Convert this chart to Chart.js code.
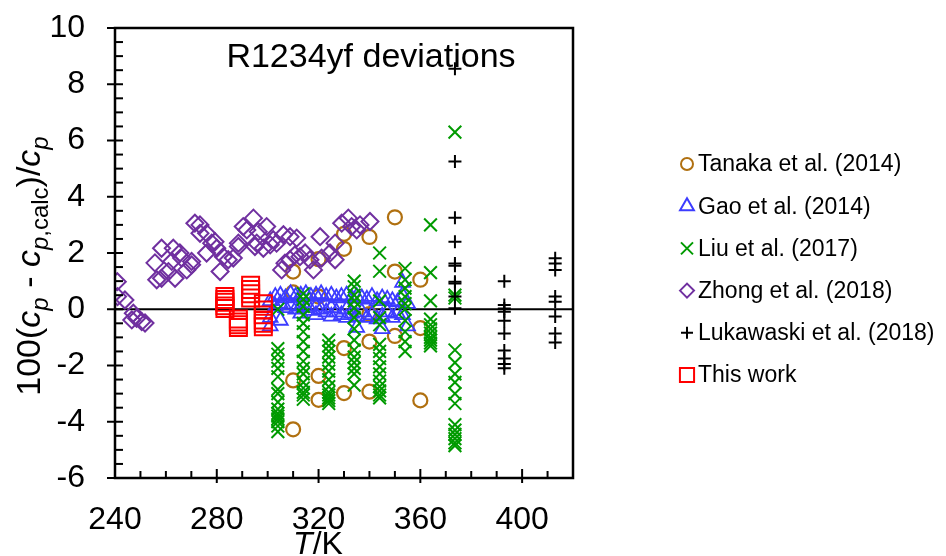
<!DOCTYPE html>
<html>
<head>
<meta charset="utf-8">
<script src="https://cdn.jsdelivr.net/npm/chart.js@4.4.1/dist/chart.umd.min.js"></script>
<style>
  html, body { margin: 0; padding: 0; background: #fff; }
  #wrap { width: 946px; height: 556px; }
</style>
</head>
<body>
<div id="wrap"><canvas id="cpChart" width="946" height="556"></canvas></div>
<script>
// Values: T in K, 100(cp - cp,calc)/cp in %
const tanakaT = [310, 310, 310, 310, 320, 320, 320, 320, 330, 330, 330, 330, 340, 340, 340, 340, 350, 350, 350, 360, 360, 360];
const tanakaV = [1.34, 0.6, -2.53, -4.27, 1.78, 0.45, -2.37, -3.22, 2.68, 2.15, -1.38, -2.98, 2.57, -0.17, -1.15, -2.93, 3.27, 1.34, -0.95, 1.05, -0.67, -3.24];

const gaoT = [301, 301, 301, 303, 303, 305, 305, 305, 307, 307, 309, 309, 311, 311, 313, 313, 313, 315, 315, 317, 317,
  319, 319, 319, 321, 321, 323, 323, 325, 325, 325, 327, 327, 329, 329, 331, 331, 331, 333, 333, 335, 335, 335,
  337, 337, 339, 339, 341, 341, 343, 343, 345, 345, 345, 347, 347, 349, 349, 351, 351, 353, 353, 353, 355, 355];
const gaoV = [0.3, -0.3, -0.6, 0.45, 0.1, 0.5, 0.2, -0.4, 0.4, 0.05, 0.55, 0.15, 0.45, 0.0, 0.5, 0.1, -0.15, 0.55, 0.05, 0.45, -0.05,
  0.5, 0.1, -0.2, 0.55, 0.0, 0.45, -0.1, 0.5, 0.05, -0.25, 0.4, -0.1, 0.45, -0.2, 0.5, 0.0, -0.3, 0.4, -0.15, 0.45, -0.25, -0.65,
  0.4, -0.1, 0.35, -0.3, 0.45, -0.2, 0.3, -0.35, 0.4, -0.25, -0.7, 0.35, -0.1, 0.3, -0.3, 0.25, -0.15, 0.95, 0.5, -0.2, 0.2, -0.6];

const liuT = [
  304, 304, 304, 304, 304, 304, 304, 304, 304, 304, 304, 304, 304, 304, 304, 304,
  314, 314, 314, 314, 314, 314, 314, 314, 314, 314, 314, 314, 314, 314, 314, 314,
  324, 324, 324, 324, 324, 324, 324, 324, 324, 324, 324, 324, 324,
  334, 334, 334, 334, 334, 334, 334, 334, 334, 334, 334, 334, 334, 334,
  344, 344, 344, 344, 344, 344, 344, 344, 344, 344, 344, 344, 344, 344, 344,
  354, 354, 354, 354, 354, 354, 354, 354, 354, 354,
  364, 364, 364, 364, 364, 364, 364, 364, 364, 364, 364,
  373.6, 373.6, 373.6, 373.6, 373.6, 373.6, 373.6, 373.6, 373.6, 373.6, 373.6, 373.6, 373.6, 373.6, 373.6];
const liuV = [
  0.0, -1.4, -1.6, -1.85, -2.1, -2.4, -2.85, -3.0, -3.3, -3.55, -3.7, -3.8, -3.9, -4.0, -4.15, -4.35,
  0.55, 0.35, 0.1, -0.2, -0.5, -0.8, -1.15, -1.5, -1.85, -2.1, -2.3, -2.6, -2.8, -2.95, -3.05, -3.2,
  -1.1, -1.3, -1.5, -1.7, -1.95, -2.2, -2.5, -2.75, -2.95, -3.05, -3.15, -3.25, -3.35,
  1.0, 0.8, 0.5, 0.3, 0.05, -0.3, -0.7, -1.1, -1.45, -1.7, -1.9, -2.1, -2.3, -2.7,
  2.0, 1.35, 0.3, -0.3, -0.55, -1.25, -1.5, -1.75, -2.05, -2.3, -2.55, -2.75, -2.9, -3.05, -3.15,
  1.45, 1.05, 0.75, 0.45, 0.2, 0.0, -0.4, -0.8, -1.15, -1.5,
  3.0, 1.3, 0.3, -0.35, -0.55, -0.7, -0.85, -1.0, -1.1, -1.2, -1.3,
  6.3, 0.5, 0.4, -1.45, -1.9, -2.3, -2.6, -3.0, -3.35, -4.1, -4.3, -4.45, -4.6, -4.75, -4.85];

const zhongT = [240.9, 241, 243.9, 246.6, 247.2, 248.5, 250.5, 251.8, 255.7, 256.4, 258.3, 258.3, 261, 262.3, 262.9, 263.6,
  265.5, 266.2, 268.2, 270.1, 270.1, 271.4, 273.4, 273.4, 276, 276, 278, 279.3, 280, 281.3, 282.6, 284.5, 286.5, 288.5, 288.5,
  290.4, 291.8, 294.4, 295, 295.7, 296.3, 298.3, 299.6, 301, 302.2, 303.5, 305.5, 306.2, 306.8, 308.8, 308.8, 310.7, 311.4,
  312.7, 314.7, 316.6, 318, 320.6, 321.2, 324.5, 326.5, 326.5, 329.1, 331.7, 333, 335, 336.3, 340.2];
const zhongV = [0.98, 0.45, 0.33, -0.38, -0.14, -0.32, -0.44, -0.49, 1.65, 1.05, 1.1, 2.17, 1.34, 1.7, 2.17, 1.1,
  2.0, 1.82, 1.4, 1.7, 1.58, 3.06, 3.0, 2.7, 2.7, 2.0, 2.35, 2.4, 2.17, 1.34, 1.87, 1.76, 1.82, 2.35, 2.23,
  2.94, 2.82, 3.24, 2.23, 2.35, 2.76, 2.17, 2.94, 2.29, 2.47, 2.35, 1.4, 2.65, 1.64, 2.58, 1.76, 1.93, 2.53,
  1.87, 2.0, 1.76, 1.4, 2.58, 1.82, 2.0, 2.35, 1.76, 3.06, 3.24, 2.94, 2.82, 3.0, 3.12];

const lukaT = [373.6, 373.6, 373.6, 373.6, 373.6, 373.6, 373.6, 373.6, 373.6, 373.6,
  393, 393, 393, 393, 393, 393, 393, 393, 393, 393,
  413, 413, 413, 413, 413, 413, 413, 413];
const lukaV = [8.55, 5.25, 3.25, 2.4, 1.63, 1.55, 0.98, 0.92, 0.45, 0.04,
  1.0, 0.15, 0.03, -0.09, -0.41, -0.86, -1.47, -1.75, -1.95, -2.1,
  1.81, 1.63, 1.4, 0.45, 0.27, -0.26, -0.86, -1.18];

const thisWorkT = [283.2, 283.2, 283.2, 283.2, 283.2, 288.5, 288.5, 288.5, 288.5, 293.3, 293.3, 293.3, 293.3,
  298.3, 298.3, 298.3, 298.3, 298.3, 298.3];
const thisWorkV = [0.45, 0.35, 0.25, 0.12, 0.03, -0.35, -0.45, -0.55, -0.65, 0.85, 0.7, 0.55, 0.4,
  0.2, -0.03, -0.2, -0.38, -0.5, -0.62];

const seriesLabels = ['Tanaka et al. (2014)', 'Gao et al. (2014)', 'Liu et al. (2017)', 'Zhong et al. (2018)', 'Lukawaski et al. (2018)', 'This work'];
const xTickLabels = [240, 280, 320, 360, 400];
const yTickLabels = [-6, -4, -2, 0, 2, 4, 6, 8, 10];

const FONT = "'Liberation Sans', Arial, sans-serif";

function pairs(xs, ys) {
  return xs.map((x, i) => ({ x: x, y: ys[i] }));
}

// marker style per series (same order as seriesLabels)
const styles = [
  { color: '#B07010', pointStyle: 'circle', radius: 7, width: 2.2, legendRadius: 6 },
  { color: '#3C3CFF', pointStyle: 'triangle', radius: 8.5, width: 1.8, legendRadius: 8 },
  { color: '#009A00', pointStyle: 'crossRot', radius: 9, width: 2, legendRadius: 8.5 },
  { color: '#7030A0', pointStyle: 'rectRot', radius: 8.5, width: 2, legendRadius: 7 },
  { color: '#000000', pointStyle: 'cross', radius: 6.5, width: 2, legendRadius: 6 },
  { color: '#FF0000', pointStyle: 'rect', radius: 12, width: 2, legendRadius: 10 }
];
const seriesData = [
  pairs(tanakaT, tanakaV), pairs(gaoT, gaoV), pairs(liuT, liuV),
  pairs(zhongT, zhongV), pairs(lukaT, lukaV), pairs(thisWorkT, thisWorkV)
];

const datasets = seriesData.map((d, i) => ({
  label: seriesLabels[i],
  data: d,
  order: 6 - i,
  pointStyle: styles[i].pointStyle,
  pointRadius: styles[i].radius,
  pointBorderWidth: styles[i].width,
  borderColor: styles[i].color,
  backgroundColor: 'rgba(0,0,0,0)',
  showLine: false
}));

// own plugin: zero line, axis frame with inside/crossing ticks, texts, legend
const decorations = {
  id: 'decorations',
  beforeDatasetsDraw(chart) {
    const { ctx, chartArea, scales } = chart;
    const y0 = scales.y.getPixelForValue(0);
    ctx.save();
    ctx.strokeStyle = '#000';
    ctx.lineWidth = 2;
    ctx.beginPath();
    ctx.moveTo(chartArea.left, y0);
    ctx.lineTo(chartArea.right, y0);
    ctx.stroke();
    ctx.restore();
  },
  afterDraw(chart) {
    const { ctx, chartArea: a, scales } = chart;
    ctx.save();
    ctx.strokeStyle = '#000';
    ctx.lineWidth = 2.5;
    ctx.strokeRect(a.left, a.top, a.right - a.left, a.bottom - a.top);

    // y ticks every 0.5, major every 2
    ctx.lineWidth = 2;
    for (let v = -6; v <= 10; v += 0.5) {
      const py = scales.y.getPixelForValue(v);
      const major = v % 2 === 0;
      ctx.beginPath();
      ctx.moveTo(a.left - (major ? 8 : 0), py);
      ctx.lineTo(a.left + 8, py);
      ctx.stroke();
    }
    // x ticks every 10, major every 40
    for (let t = 250; t <= 410; t += 10) {
      const px = scales.x.getPixelForValue(t);
      const major = (t - 240) % 40 === 0;
      ctx.beginPath();
      ctx.moveTo(px, a.bottom + (major ? 5 : 0));
      ctx.lineTo(px, a.bottom - (major ? 9 : 7));
      ctx.stroke();
    }

    ctx.fillStyle = '#000';
    ctx.textBaseline = 'alphabetic';

    // title inside the plot
    ctx.font = '34px ' + FONT;
    ctx.textAlign = 'center';
    ctx.fillText('R1234yf deviations', 371, 67);

    // x title: T/K
    ctx.textAlign = 'left';
    ctx.font = 'italic 32px ' + FONT;
    const tW = ctx.measureText('T').width;
    ctx.font = '32px ' + FONT;
    const kW = ctx.measureText('/K').width;
    const xs = 318 - (tW + kW) / 2;
    ctx.font = 'italic 32px ' + FONT;
    ctx.fillText('T', xs, 554);
    ctx.font = '32px ' + FONT;
    ctx.fillText('/K', xs + tW, 554);

    // y title: 100(cp - cp,calc)/cp
    const parts = [
      ['100(', '34px', 0], ['c', 'italic 34px', 0], ['p', 'italic 24px', 8],
      [' - ', '34px', 0], ['c', 'italic 34px', 0], ['p', 'italic 24px', 8], [',calc', '24px', 8],
      [')/', '34px', 0], ['c', 'italic 34px', 0], ['p', 'italic 24px', 8]
    ];
    let total = 0;
    parts.forEach(p => { ctx.font = p[1] + ' ' + FONT; total += ctx.measureText(p[0]).width; });
    ctx.translate(40, 266);
    ctx.rotate(-Math.PI / 2);
    let cx = -total / 2;
    parts.forEach(p => {
      ctx.font = p[1] + ' ' + FONT;
      ctx.fillText(p[0], cx, p[2]);
      cx += ctx.measureText(p[0]).width;
    });
    ctx.setTransform(1, 0, 0, 1, 0, 0);

    // legend
    ctx.font = '23px ' + FONT;
    ctx.textBaseline = 'middle';
    seriesLabels.forEach((label, i) => {
      const ly = 164 + i * 42.2;
      const s = styles[i];
      ctx.strokeStyle = s.color;
      ctx.fillStyle = 'rgba(0,0,0,0)';
      ctx.lineWidth = 2;
      Chart.helpers.drawPoint(ctx, {
        pointStyle: s.pointStyle, radius: s.legendRadius, borderWidth: 2, rotation: 0
      }, 687, ly);
      ctx.fillStyle = '#000';
      ctx.fillText(label, 698, ly + 1);
    });
    ctx.restore();
  }
};

new Chart(document.getElementById('cpChart'), {
  type: 'scatter',
  data: { datasets: datasets },
  plugins: [decorations],
  options: {
    responsive: false,
    animation: false,
    layout: { padding: { left: 0, right: 373, top: 28, bottom: 0 } },
    plugins: { legend: { display: false }, tooltip: { enabled: false }, title: { display: false } },
    scales: {
      x: {
        type: 'linear', min: 240, max: 420,
        grid: { display: false },
        border: { display: false },
        afterBuildTicks: s => { s.ticks = xTickLabels.map(v => ({ value: v })); },
        afterFit: s => { s.height = 78; s.paddingLeft = 0; s.paddingRight = 0; },
        ticks: { color: '#000', font: { family: FONT, size: 32 }, padding: 15, maxRotation: 0 }
      },
      y: {
        type: 'linear', min: -6, max: 10,
        grid: { display: false },
        border: { display: false },
        afterBuildTicks: s => { s.ticks = yTickLabels.map(v => ({ value: v })); },
        afterFit: s => { s.width = 115; s.paddingTop = 0; s.paddingBottom = 0; },
        ticks: { color: '#000', font: { family: FONT, size: 32 }, padding: 22 }
      }
    }
  }
});
</script>
</body>
</html>
